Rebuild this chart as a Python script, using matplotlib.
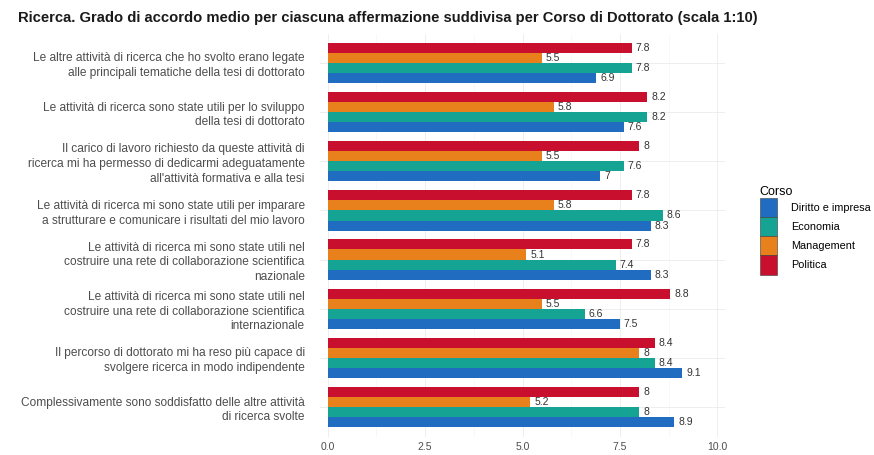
import matplotlib.pyplot as plt
import numpy as np
from matplotlib.patches import Patch

plt.rcParams['font.family'] = ['Liberation Sans', 'DejaVu Sans']

affermazioni = [
    "Le altre attività di ricerca che ho svolto erano legate\nalle principali tematiche della tesi di dottorato",
    "Le attività di ricerca sono state utili per lo sviluppo\ndella tesi di dottorato",
    "Il carico di lavoro richiesto da queste attività di\nricerca mi ha permesso di dedicarmi adeguatamente\nall'attività formativa e alla tesi",
    "Le attività di ricerca mi sono state utili per imparare\na strutturare e comunicare i risultati del mio lavoro",
    "Le attività di ricerca mi sono state utili nel\ncostruire una rete di collaborazione scientifica\nnazionale",
    "Le attività di ricerca mi sono state utili nel\ncostruire una rete di collaborazione scientifica\ninternazionale",
    "Il percorso di dottorato mi ha reso più capace di\nsvolgere ricerca in modo indipendente",
    "Complessivamente sono soddisfatto delle altre attività\ndi ricerca svolte",
]

corsi = ["Diritto e impresa", "Economia", "Management", "Politica"]
colori = ["#1f6cc0", "#15a394", "#e8801c", "#c8102e"]

diritto = [6.9, 7.6, 7.0, 8.3, 8.3, 7.5, 9.1, 8.9]
economia = [7.8, 8.2, 7.6, 8.6, 7.4, 6.6, 8.4, 8.0]
management = [5.5, 5.8, 5.5, 5.8, 5.1, 5.5, 8.0, 5.2]
politica = [7.8, 8.2, 8.0, 7.8, 7.8, 8.8, 8.4, 8.0]
valori = [diritto, economia, management, politica]

fig = plt.figure(figsize=(8.74, 4.55), dpi=100)
ax = fig.add_axes([320 / 874, 1 - 436.5 / 455, 405 / 874, 403 / 455])

y = np.arange(len(affermazioni))
h = 0.205
# Politica on top of each group, Diritto e impresa at the bottom
offsets = [1.5 * h, 0.5 * h, -0.5 * h, -1.5 * h]

for vals, col, off in zip(valori, colori, offsets):
    ax.barh(y + off, vals, height=h, color=col, zorder=3)
    for yi, v in zip(y, vals):
        ax.text(v + 0.1, yi + off, f"{v:g}", va='center', ha='left',
                fontsize=7.5, color='#333333', zorder=2)

ax.set_xlim(-0.2, 10.2)
ax.set_ylim(len(affermazioni) - 0.4, -0.6)
ax.set_xticks([0, 2.5, 5, 7.5, 10])
ax.set_xticklabels(["0.0", "2.5", "5.0", "7.5", "10.0"])
ax.set_xticks([1.25, 3.75, 6.25, 8.75], minor=True)
ax.set_yticks(y)
ax.set_yticklabels(affermazioni, fontsize=8.6, color='#4d4d4d',
                   multialignment='right', linespacing=1.3)
ax.tick_params(axis='y', length=0, pad=11)
ax.tick_params(axis='x', length=0, labelsize=7.5, labelcolor='#4d4d4d', pad=4)
ax.tick_params(axis='x', which='minor', length=0)
ax.grid(True, which='major', color='#ebebeb', linewidth=0.6, zorder=0)
ax.grid(True, which='minor', axis='x', color='#f3f3f3', linewidth=0.4, zorder=0)
ax.set_axisbelow(True)
for s in ax.spines.values():
    s.set_visible(False)

fig.text(18 / 874, 1 - 18 / 455,
         "Ricerca. Grado di accordo medio per ciascuna affermazione suddivisa per Corso di Dottorato (scala 1:10)",
         fontsize=10.6, fontweight='bold', ha='left', va='center', color='#1a1a1a')

handles = [Patch(facecolor=c, edgecolor='#3a3a3a', linewidth=0.4) for c in colori]
fig.legend(handles, corsi, title="Corso", loc='upper left',
           bbox_to_anchor=(750 / 874, 1 - 176 / 455), frameon=False,
           fontsize=7.8, title_fontsize=9, handlelength=1.6, handleheight=2.35,
           labelspacing=0.0, handletextpad=1.3, alignment='left')

fig.savefig("out.png", dpi=100)
